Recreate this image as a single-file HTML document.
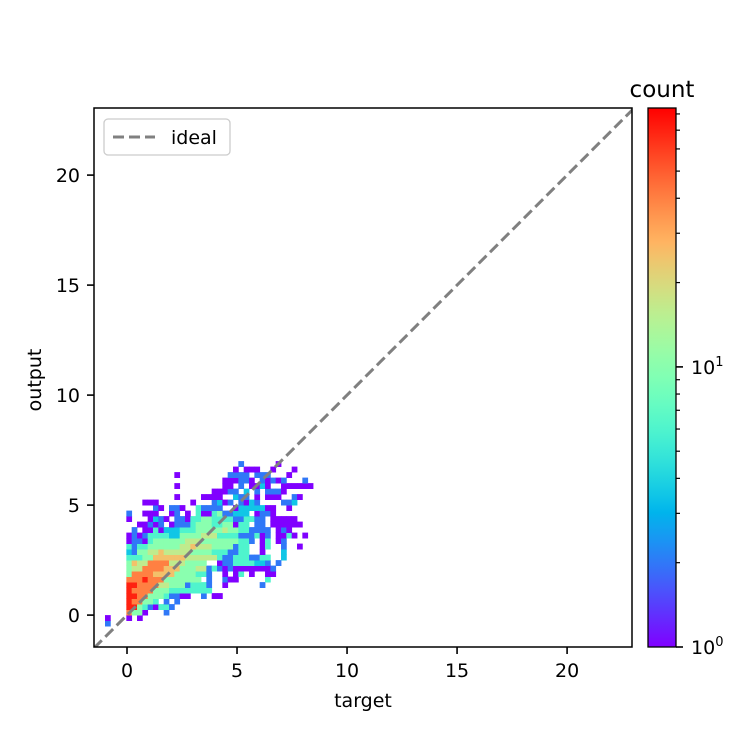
<!DOCTYPE html>
<html><head><meta charset="utf-8"><style>
html,body{margin:0;padding:0;background:#fff;}
svg{display:block;font-family:"DejaVu Sans","Liberation Sans",sans-serif;}
</style></head><body>
<svg id="chart" width="750" height="750" viewBox="0 0 750 750">
<defs>
<clipPath id="clip"><rect x="94" y="108" width="538" height="539"/></clipPath>
<linearGradient id="cbgrad" x1="0" y1="1" x2="0" y2="0"></linearGradient>
</defs>
<g id="cells" clip-path="url(#clip)"></g>
<g id="ideal" clip-path="url(#clip)"></g>
<rect x="94" y="108" width="538" height="539" fill="none" stroke="#000" stroke-width="1.5"/>
<g id="axes"></g>
<g>
<rect x="104" y="119" width="126" height="36" rx="4" fill="#fff" fill-opacity="0.8" stroke="#ccc" stroke-width="1.3"/>
<line x1="113" y1="137" x2="155" y2="137" stroke="#808080" stroke-width="3" stroke-dasharray="11,5"/>
<text x="171" y="144" font-size="19" fill="#000">ideal</text>
</g>
<text x="363" y="707" font-size="19" text-anchor="middle">target</text>
<text x="41" y="380" font-size="19" text-anchor="middle" transform="rotate(-90 41 380)">output</text>
<rect x="648" y="108" width="28" height="539" fill="url(#cbgrad)" stroke="#000" stroke-width="1.3"/>
<g id="cbticks"></g>
<text x="662" y="97" font-size="23" text-anchor="middle">count</text>
</svg>
<script>
const levelCounts = [0, 1, 2, 3.5, 6, 10, 16, 25, 40, 70];
const rowSegments = [
"0:2",
"0:1 4:1 6:1",
"4:8 5-6:5 7:1 11:2",
"4-5:9 6:5 7:4 8:2 9:1 10-11:4 12:2",
"4:9 5:8 6:8 7-8:5 9:4 11:2 13:2",
"4-5:9 6-7:8 8-10:5 11:4 12-13:2 14-15:1 18:2 20-21:1",
"4:9 5:8 6-8:8 9-11:5 12-14:4 15-19:4",
"4-5:9 6:8 7-9:8 10-11:6 12-14:5 15:2 16-18:4 19:2 22:1 29:2",
"4-6:8 7:9 8-10:8 11-17:5 19:2 22:2 23-24:1 30:4",
"4:5 5-8:8 9-12:7 13-16:5 17-18:4 19:2 22:1 24:1 25:4 27:1 30-31:1",
"4:5 5-6:6 7-10:8 11-13:7 14-16:5 17-18:6 19:2 20:4 21:2 22:1 23:2 24-30:1 31:2",
"4:5 5:7 6-7:6 8-11:8 12-14:6 15-18:5 21:1 22-23:2 24-27:4 28-29:3 30:2 32:2",
"4-6:4 7-8:5 9-14:7 15-20:6 21:4 22-23:2 24-26:4 27-28:2 29-30:4 33:3",
"4:3 5:2 6-7:5 8-9:6 10:7 11-13:6 14-15:6 16-19:5 20-22:4 23-24:2 25-26:4 29:1 33:3",
"4:4 5:2 6-7:4 8-13:5 14-15:6 16:7 17-19:6 20-23:5 24:2 25-26:4 29:1 30:4 33:2 36:1",
"4:1 5-6:2 7:1 8:4 9-14:5 15-17:6 18-24:5 25-26:4 27:2 29:1 30:4 32:1 33:2",
"4:1 5:2 6:1 7:2 8-11:4 12-13:3 14-17:5 18-20:6 21-24:4 25-27:2 28:4 29:1 30:2 32-33:1 34:4 35:1 37:1",
"5:2 7-8:1 9:4 10:1 11-13:3 14-16:4 17-21:5 22:6 23-24:5 25-26:4 27-30:2 32:1 33:2 34:1",
"6-7:1 8:2 9:1 10:2 12:1 13-15:2 16:4 17-19:5 20-21:4 22-23:5 24:1 25-26:4 28-29:2 31-36:1",
"4:1 8:1 9:3 10:2 11:1 13-14:2 15:1 16-17:4 18-19:5 20-23:4 24-25:2 26-27:4 28-29:2 31-35:1",
"4:2 7-9:1 12:1 13:2 15:1 17:4 18-19:1 20:4 21:5 22-23:2 24-26:3 28:1 29-30:2 31:1",
"9:2 10:1 12-13:2 14:1 17:4 18-21:2 24:1 25-29:3 30-31:1 34:1",
"7-9:1 16:1 20:2 21:3 22:1 23:2 25:2 26:1 27:3 28:2 33-34:2 35:3",
"13:1 18-21:1 24:3 25-26:2 28:1 30-32:1 35:2 36:1",
"20-22:1 23-24:2 26:3 28:2 30-32:2 33:1",
"13:1 22-23:1 25:2 27-28:1 29:3 30:1 33-36:1 37-38:1",
"22-24:1 25-26:2 27:1 29:2 30:1 31:2 32:1 33:2 37:2",
"13:1 23-26:2 28-30:2 34:1",
"24:1 26-28:1 31:1 35:1",
"25:2 32:1"
];
const binX0 = -1.0, binW = 0.2424, binY0 = -0.5, binH = 0.25;
const xTicks = [0, 5, 10, 15, 20];
const yTicks = [0, 5, 10, 15, 20];
const xDomain = [-1.5, 22.95], yDomain = [-1.45, 23.05];
const cbMax = 84;
const cbMajor = [1, 10];
const cbMajorLabels = ["0", "1"];
const cbMinor = [2,3,4,5,6,7,8,9,20,30,40,50,60,70,80];

const NS = "http://www.w3.org/2000/svg";
const L = 94, R = 632, T = 108, B = 647;
function sx(v){ return L + (v - xDomain[0]) / (xDomain[1] - xDomain[0]) * (R - L); }
function sy(v){ return B - (v - yDomain[0]) / (yDomain[1] - yDomain[0]) * (B - T); }
function cbY(c){ return 647 - Math.log(c) / Math.log(cbMax) * 539; }
function rainbow(x){
  x = Math.max(0, Math.min(1, x));
  const r = Math.min(1, Math.abs(2*x - 0.5)), g = Math.sin(Math.PI*x), b = Math.max(0, Math.cos(Math.PI*x/2));
  return "rgb(" + Math.round(r*255) + "," + Math.round(g*255) + "," + Math.round(b*255) + ")";
}
function colorFor(c){ return rainbow(Math.log(c) / Math.log(cbMax)); }
function mk(tag, attrs, parent){
  const e = document.createElementNS(NS, tag);
  for (const k in attrs) e.setAttribute(k, attrs[k]);
  parent.appendChild(e); return e;
}

const cells = document.getElementById("cells");
rowSegments.forEach(function(row, r){
  row.split(" ").forEach(function(seg){
    const parts = seg.split(":");
    const lv = +parts[1];
    const rg = parts[0].split("-");
    const a = +rg[0], b = rg.length > 1 ? +rg[1] : a;
    for (let c = a; c <= b; c++){
      const cnt = levelCounts[lv];
      if (!cnt) continue;
      const x0 = sx(binX0 + c*binW), x1 = sx(binX0 + (c+1)*binW);
      const y0 = sy(binY0 + (r+1)*binH), y1 = sy(binY0 + r*binH);
      const el = mk("rect", {x: x0, y: y0, width: x1 - x0 + 0.4, height: y1 - y0 + 0.4, fill: colorFor(cnt)}, cells);
      
      
    }
  });
});

const ideal = document.getElementById("ideal");
const il = mk("line", {x1: sx(-1.5), y1: sy(-1.5), x2: sx(24), y2: sy(24), stroke: "#808080", "stroke-width": 3, "stroke-dasharray": "11,5"}, ideal);



const axes = document.getElementById("axes");
xTicks.forEach(function(v){
  const x = sx(v);
  const t = mk("line", {x1: x, y1: B, x2: x, y2: B + 7, stroke: "#000", "stroke-width": 1.6}, axes);
  
  
  const tx = mk("text", {x: x, y: B + 30, "font-size": 19, "text-anchor": "middle"}, axes);
  tx.textContent = String(v);
  
  
});
yTicks.forEach(function(v){
  const y = sy(v);
  const t = mk("line", {x1: L - 7, y1: y, x2: L, y2: y, stroke: "#000", "stroke-width": 1.6}, axes);
  
  
  const tx = mk("text", {x: L - 14, y: y + 7, "font-size": 19, "text-anchor": "end"}, axes);
  tx.textContent = String(v);
  
  
});

const grad = document.getElementById("cbgrad");
for (let i = 0; i <= 40; i++){
  mk("stop", {offset: (i/40), "stop-color": rainbow(i/40)}, grad);
}
const cbt = document.getElementById("cbticks");
cbMajor.forEach(function(v, i){
  const y = cbY(v);
  const t = mk("line", {x1: 676, y1: y, x2: 683, y2: y, stroke: "#000", "stroke-width": 1.6}, cbt);
  
  
  const tx = mk("text", {x: 691, y: y + 7, "font-size": 19}, cbt);
  tx.textContent = "10";
  const sup = mk("tspan", {dy: -8, "font-size": 13}, tx);
  sup.textContent = cbMajorLabels[i];
  
  
});
cbMinor.forEach(function(v){
  const y = cbY(v);
  const t = mk("line", {x1: 676, y1: y, x2: 680, y2: y, stroke: "#000", "stroke-width": 1.2}, cbt);
  
  
});
</script>
</body></html>
